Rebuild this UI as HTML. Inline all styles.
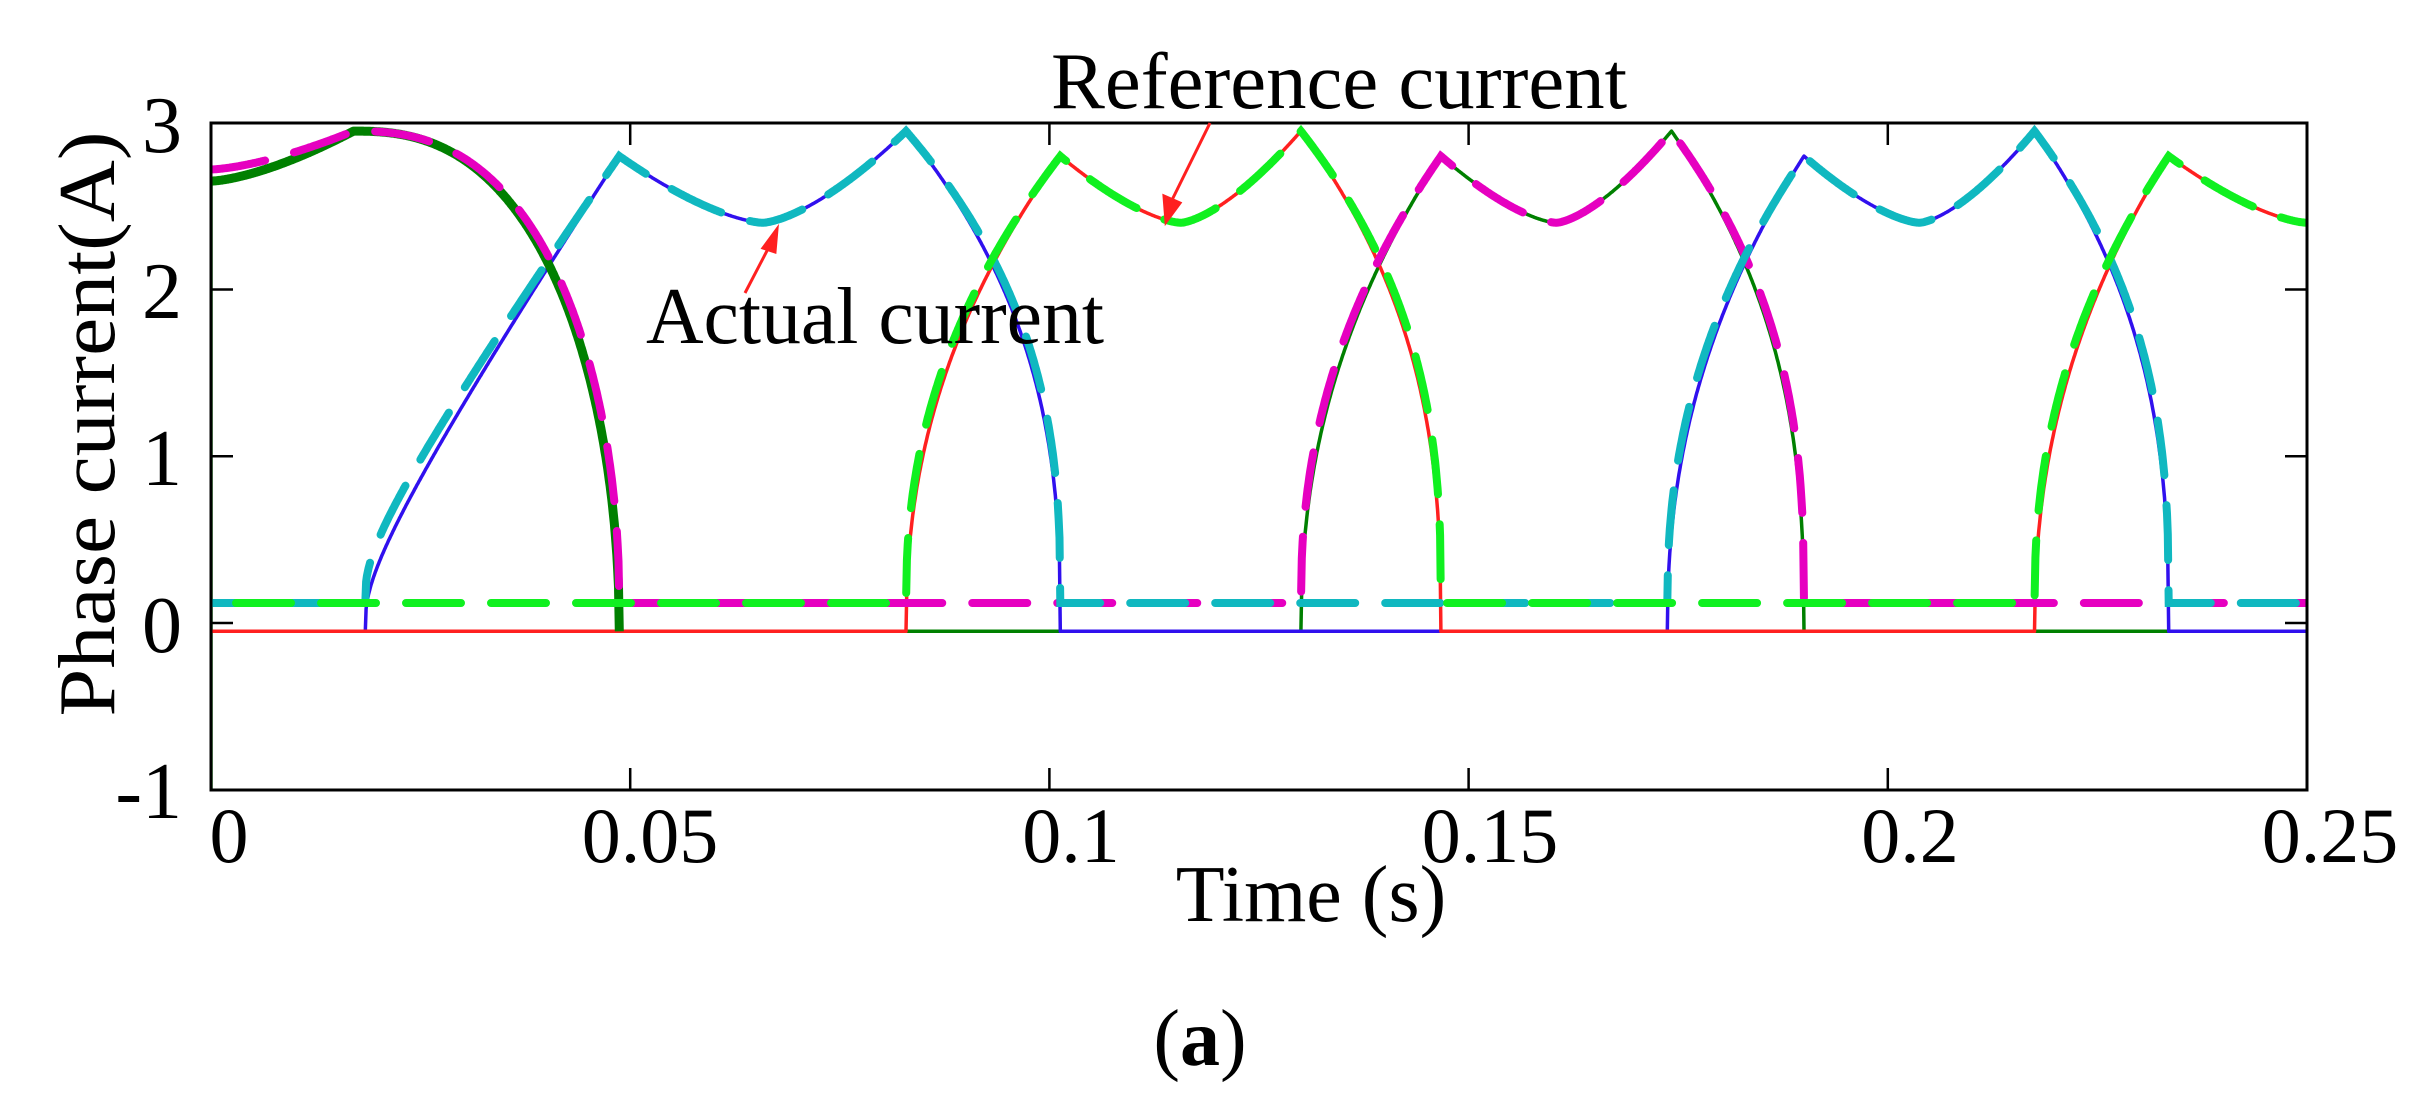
<!DOCTYPE html>
<html><head><meta charset="utf-8"><style>
html,body{margin:0;padding:0;background:#fff;}
svg{display:block;font-family:"Liberation Serif",serif;}
</style></head><body>
<svg id="s" width="2431" height="1100" viewBox="0 0 2431 1100" xmlns="http://www.w3.org/2000/svg">
<defs><clipPath id="c"><rect x="211" y="118" width="2096" height="672"/></clipPath></defs>
<rect x="0" y="0" width="2431" height="1100" fill="#fff"/>
<g id="act" clip-path="url(#c)" fill="none" stroke-linejoin="round"></g>
<g id="ref" clip-path="url(#c)" fill="none" stroke-linecap="round"></g>
<rect x="211" y="123" width="2096" height="667" fill="none" stroke="#000" stroke-width="3"/>
<g stroke="#000" stroke-width="2.5" id="ticks"></g>
<g font-size="80" fill="#000" text-anchor="end">
<text x="182" y="152">3</text><text x="182" y="318">2</text><text x="182" y="485">1</text><text x="182" y="652">0</text><text x="182" y="818">-1</text>
</g>
<g font-size="78" fill="#000" text-anchor="middle">
<text x="229" y="862">0</text><text x="650" y="862">0.05</text><text x="1071" y="862">0.1</text><text x="1490" y="862">0.15</text><text x="1910" y="862">0.2</text><text x="2330" y="862">0.25</text>
</g>
<text x="1311" y="921" font-size="80" text-anchor="middle">Time (s)</text>
<text x="1200" y="1065" font-size="80" text-anchor="middle">(<tspan font-weight="bold">a</tspan>)</text>
<text transform="translate(114,424) rotate(-90)" font-size="80" text-anchor="middle" textLength="585" lengthAdjust="spacingAndGlyphs">Phase current(A)</text>
<text x="1051" y="108" font-size="80" textLength="576" lengthAdjust="spacingAndGlyphs">Reference current</text>
<text x="646" y="343" font-size="80" textLength="458" lengthAdjust="spacingAndGlyphs">Actual current</text>
<g stroke="#ff2020" stroke-width="3" fill="#ff2020">
<line x1="1210" y1="123" x2="1172" y2="200"/><polygon points="1166,222 1164,196 1180,203"/>
<line x1="745" y1="293" x2="770" y2="245"/><polygon points="777,229 763,248 775,252"/>
</g>
</svg>
<script>
var X=function(t){return 211+t*8384;},Y=function(v){return 623-166.75*v;};
function seg(iv,t,off){
  var t0=iv[0],p1=iv[1],p2=iv[2],te=iv[3],longr=iv[4];
  if(t<t0||t>te)return null;
  if(t<p1){var u=(t-t0)/(p1-t0);var f=longr?(0.25*Math.pow(u,0.3)+0.75*u):Math.pow(u,0.45);return off+(2.8-off)*f;}
  if(t<p2){var u=(t-p1)/(p2-p1);var d=Math.abs(2*u-1);return 2.4+(u<0.5?0.4:0.55)*Math.pow(d,1.5);}
  var u=(te-t)/(te-p2);return off+(2.95-off)*Math.pow(u,0.38);
}
var phases={
 g:[[0.130,0.1467,0.1742,0.190]],
 b:[[0.0184,0.0487,0.0829,0.1013,1],[0.1737,0.190,0.2175,0.2335]],
 r:[[0.0829,0.1013,0.130,0.1467],[0.2175,0.2335,0.2665,0.285]]
};
function val(k,t,off,first){
  if(k=='g'&&t<=0.0487){
    if(t<0.017){var u=t/0.017;return (first?2.72:2.65)+(first?0.23:0.30)*Math.pow(u,1.5);}
    var u=(t-0.017)/(0.0487-0.017);return off+(2.95-off)*Math.sqrt(Math.max(0,1-Math.pow(u,2.5)));
  }
  var ps=phases[k];for(var i=0;i<ps.length;i++){var v=seg(ps[i],t,off);if(v!==null)return v;}
  return off;
}
function path(k,off,ref){
  var d='';for(var i=0;i<=2500;i++){var t=i*0.0001;var v=val(k,t,off,ref);
    d+=(i?'L':'M')+X(t).toFixed(1)+' '+Y(v).toFixed(1);}
  return d;
}
var ns='http://www.w3.org/2000/svg';
function add(g,d,col,w,dash,offs){var p=document.createElementNS(ns,'path');p.setAttribute('d',d);p.setAttribute('stroke',col);p.setAttribute('stroke-width',w);if(dash){p.setAttribute('stroke-dasharray',dash);p.setAttribute('stroke-dashoffset',offs);}g.appendChild(p);}
var act=document.getElementById('act'),ref=document.getElementById('ref');
add(act,'M211 790L211 623'+path('g',-0.05,false).replace(/^M/,'L'),'#008000',3.5);
add(act,path('b',-0.05,false),'#3010ee',3.5);
add(act,path('r',-0.05,false),'#ff2020',3.5);
add(act,(function(){var d='';for(var i=0;i<=487;i++){var t=i*0.0001;var v=val('g',t,-0.05,false);d+=(i?'L':'M')+X(t).toFixed(1)+' '+Y(v).toFixed(1);}return d;})(),'#008000',9);
add(ref,path('g',0.12,true),'#e600c0',8,'55 30',0);
add(ref,path('b',0.12,true),'#10b8c0',8,'55 30',30);
add(ref,path('r',0.12,true),'#10f020',8,'55 30',60);
var tk=document.getElementById('ticks');
function ln(a,b,c,d){var l=document.createElementNS(ns,'line');l.setAttribute('x1',a);l.setAttribute('y1',b);l.setAttribute('x2',c);l.setAttribute('y2',d);tk.appendChild(l);}
for(var i=1;i<5;i++){var x=X(i*0.05);ln(x,123,x,145);ln(x,790,x,768);}
for(var v=0;v<3;v++){var y=Y(v);ln(211,y,233,y);ln(2307,y,2285,y);}
</script>
</body></html>
